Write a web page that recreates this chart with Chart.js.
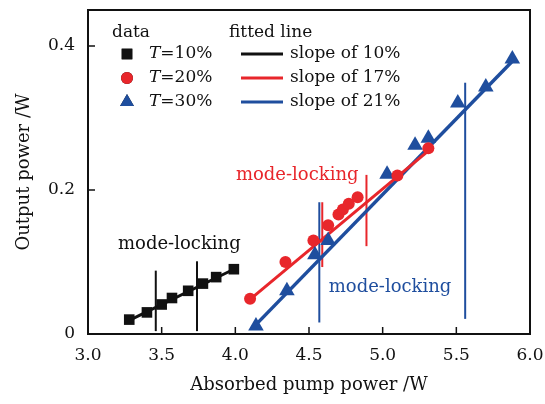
<!DOCTYPE html>
<html>
<head>
<meta charset="utf-8">
<script src="https://cdn.jsdelivr.net/npm/chart.js@4.4.1/dist/chart.umd.min.js"></script>
<style>
    body { margin: 0; background: #fff; }
    #wrap { width: 545px; height: 404px; }
</style>
</head>
<body>
<div id="wrap"><canvas id="power_chart" width="545" height="404"></canvas></div>
<script>
//Measured points, T = 10%, 20%, 30%
const x10 = [3.28, 3.40, 3.50, 3.57, 3.68, 3.78, 3.87, 3.99];
const y10 = [0.020, 0.030, 0.041, 0.050, 0.060, 0.070, 0.079, 0.090];
const x20 = [4.10, 4.34, 4.53, 4.63, 4.70, 4.73, 4.77, 4.83, 5.10, 5.31];
const y20 = [0.049, 0.100, 0.130, 0.151, 0.166, 0.173, 0.181, 0.190, 0.220, 0.258];
const x30 = [4.14, 4.35, 4.54, 4.63, 5.03, 5.22, 5.31, 5.51, 5.70, 5.88];
const y30 = [0.011, 0.060, 0.110, 0.130, 0.222, 0.262, 0.272, 0.321, 0.343, 0.382];

//Fitted lines (end points)
const fitX10 = [3.28, 4.00];
const fitY10 = [0.019, 0.091];
const fitX20 = [4.10, 5.32];
const fitY20 = [0.048, 0.256];
const fitX30 = [4.14, 5.90];
const fitY30 = [0.013, 0.383];

//Mode-locking range markers: x, bottom y, top y
const lockX10 = [3.46, 3.74];
const lockLo10 = [0.004, 0.004];
const lockHi10 = [0.088, 0.101];
const lockX20 = [4.59, 4.89];
const lockLo20 = [0.093, 0.122];
const lockHi20 = [0.183, 0.221];
const lockX30 = [4.57, 5.56];
const lockLo30 = [0.016, 0.021];
const lockHi30 = [0.183, 0.349];

//Axis ticks
const xTicks = [3.0, 3.5, 4.0, 4.5, 5.0, 5.5, 6.0];
const yTicks = [0, 0.2, 0.4];

const legendLabels = ['T=10%', 'T=20%', 'T=30%'];
const fitLabels = ['slope of 10%', 'slope of 17%', 'slope of 21%'];

const BLACK = '#111111';
const RED = '#e8262b';
const BLUE = '#1f4e9e';
const SERIF = "'DejaVu Serif', serif";

const toPoints = (xs, ys) => xs.map((x, i) => ({x: x, y: ys[i]}));

const markerSet = (label, xs, ys, color, style, radius) => ({
    label: label,
    data: toPoints(xs, ys),
    showLine: false,
    pointStyle: style,
    pointRadius: radius,
    pointBackgroundColor: color,
    pointBorderColor: color,
    pointBorderWidth: 0,
    order: 1
});

const lineSet = (xs, ys, color, width) => ({
    data: toPoints(xs, ys),
    showLine: true,
    borderColor: color,
    borderWidth: width,
    pointRadius: 0,
    fill: false,
    order: 2
});

//Each range marker becomes its own two point line
const lockSets = (xs, lo, hi, color) => xs.map((x, i) => lineSet([x, x], [lo[i], hi[i]], color, 2));

const datasets = [
    lineSet(fitX10, fitY10, BLACK, 3),
    lineSet(fitX20, fitY20, RED, 3),
    lineSet(fitX30, fitY30, BLUE, 3.5),
    ...lockSets(lockX10, lockLo10, lockHi10, BLACK),
    ...lockSets(lockX20, lockLo20, lockHi20, RED),
    ...lockSets(lockX30, lockLo30, lockHi30, BLUE),
    markerSet(legendLabels[0], x10, y10, BLACK, 'rect', 7.5),
    markerSet(legendLabels[1], x20, y20, RED, 'circle', 6),
    markerSet(legendLabels[2], x30, y30, BLUE, 'triangle', 9)
];

//Text labels placed in data coordinates
const notes = [
    {text: 'mode-locking', x: 3.62, y: 0.125, color: BLACK},
    {text: 'mode-locking', x: 4.42, y: 0.221, color: RED},
    {text: 'mode-locking', x: 5.05, y: 0.065, color: BLUE}
];

const framePlugin = {
    id: 'frame',
    afterDatasetsDraw: (chart) => {
        const ctx = chart.ctx;
        const area = chart.chartArea;
        const xs = chart.scales.x;
        const ys = chart.scales.y;
        ctx.save();
        //Inward tick marks
        ctx.strokeStyle = BLACK;
        ctx.lineWidth = 1.5;
        ctx.beginPath();
        xTicks.forEach((v) => {
            const px = xs.getPixelForValue(v);
            ctx.moveTo(px, area.bottom);
            ctx.lineTo(px, area.bottom - 7);
        });
        yTicks.forEach((v) => {
            const py = ys.getPixelForValue(v);
            ctx.moveTo(area.left, py);
            ctx.lineTo(area.left + 7, py);
        });
        ctx.stroke();
        //Box round the plot
        ctx.lineWidth = 2;
        ctx.strokeRect(area.left, area.top, area.right - area.left, area.bottom - area.top);

        //Annotations
        ctx.font = '18px ' + SERIF;
        ctx.textAlign = 'center';
        ctx.textBaseline = 'middle';
        notes.forEach((n) => {
            ctx.fillStyle = n.color;
            ctx.fillText(n.text, xs.getPixelForValue(n.x), ys.getPixelForValue(n.y));
        });

        //Legend, two columns
        const colors = [BLACK, RED, BLUE];
        const styles = ['rect', 'circle', 'triangle'];
        const radii = [7.5, 6, 8.5];
        const left = area.left;
        const top = area.top;
        ctx.textAlign = 'left';
        ctx.fillStyle = BLACK;
        ctx.font = '17px ' + SERIF;
        ctx.fillText('data', left + 24, top + 23);
        ctx.fillText('fitted line', left + 141, top + 23);
        for (let i = 0; i < 3; i++){
            const rowY = top + 44 + i * 24;
            Chart.helpers.drawPoint(ctx, {
                pointStyle: styles[i],
                radius: radii[i] - (i == 2 ? 0.5 : 0),
                borderWidth: 0,
                rotation: 0
            }, left + 39, rowY);
            ctx.fillStyle = colors[i];
            ctx.fill();
            //Italic T then the rest
            ctx.fillStyle = BLACK;
            ctx.font = 'italic 17px ' + SERIF;
            ctx.fillText('T', left + 61, rowY);
            const tw = ctx.measureText('T').width;
            ctx.font = '17px ' + SERIF;
            ctx.fillText(legendLabels[i].slice(1), left + 61 + tw, rowY);
            //Line sample
            ctx.strokeStyle = colors[i];
            ctx.lineWidth = 3;
            ctx.beginPath();
            ctx.moveTo(left + 153, rowY);
            ctx.lineTo(left + 195, rowY);
            ctx.stroke();
            ctx.fillText(fitLabels[i], left + 202, rowY);
        }
        ctx.restore();
    }
};

const ctx = document.getElementById('power_chart');
const powerChart = new Chart(ctx, {
    type: 'scatter',
    data: {datasets: datasets},
    options: {
        responsive: false,
        animation: false,
        layout: {padding: {top: 10, right: 15, left: 0, bottom: 0}},
        plugins: {
            legend: {display: false},
            tooltip: {enabled: false}
        },
        scales: {
            x: {
                type: 'linear',
                min: 3.0,
                max: 6.0,
                afterBuildTicks: (scale) => { scale.ticks = xTicks.map((v) => ({value: v})); },
                afterFit: (scale) => {
                    scale.height = 70;
                    //No extra room for the end labels, the frame sets the area
                    scale.paddingLeft = 0;
                    scale.paddingRight = 0;
                },
                grid: {display: false, drawTicks: false},
                border: {display: false},
                ticks: {
                    padding: 11,
                    color: BLACK,
                    font: {family: SERIF, size: 17},
                    callback: (v) => Number(v).toFixed(1)
                },
                title: {
                    display: true,
                    text: 'Absorbed pump power /W',
                    color: BLACK,
                    font: {family: SERIF, size: 18},
                    padding: {top: 0, bottom: 8}
                }
            },
            y: {
                type: 'linear',
                min: 0,
                max: 0.45,
                afterBuildTicks: (scale) => { scale.ticks = yTicks.map((v) => ({value: v})); },
                afterFit: (scale) => {
                    scale.width = 88;
                    scale.paddingTop = 0;
                    scale.paddingBottom = 0;
                },
                grid: {display: false, drawTicks: false},
                border: {display: false},
                ticks: {
                    padding: 13,
                    color: BLACK,
                    font: {family: SERIF, size: 17},
                    callback: (v) => (v == 0 ? '0' : Number(v).toFixed(1))
                },
                title: {
                    display: true,
                    text: 'Output power /W',
                    color: BLACK,
                    font: {family: SERIF, size: 18},
                    padding: {top: 14, bottom: 0}
                }
            }
        }
    },
    plugins: [framePlugin]
});
</script>
</body>
</html>
